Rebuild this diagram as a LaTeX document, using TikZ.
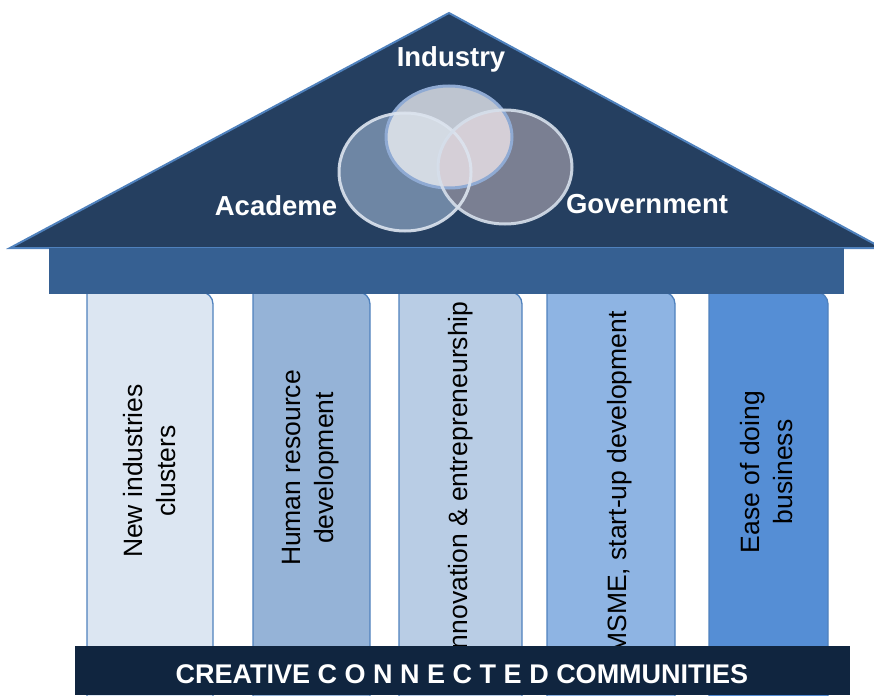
\documentclass[tikz,border=0pt]{standalone}
\usepackage{fontspec}
\setmainfont{Liberation Sans}

\definecolor{roofblue}{HTML}{253F60}
\definecolor{edgeblue}{HTML}{4F81BD}
\definecolor{beamblue}{HTML}{366092}
\definecolor{basenavy}{HTML}{10253F}
\definecolor{pillarA}{HTML}{DCE6F2}
\definecolor{pillarB}{HTML}{95B3D7}
\definecolor{pillarC}{HTML}{B9CDE5}
\definecolor{pillarD}{HTML}{8EB4E3}
\definecolor{pillarE}{HTML}{558ED5}

\newcommand{\industryshape}{(449,137) ellipse [x radius=63, y radius=51]}
\newcommand{\academeshape}{(405,172) ellipse [x radius=66, y radius=59]}
\newcommand{\governmentshape}{(505,167) ellipse [x radius=67, y radius=57]}

\tikzset{%
  pillar/.style={
    draw=edgeblue,
    line width=1.3pt
  },
  pillar label/.style={
    rotate=90,
    align=center,
    font=\fontsize{26.5}{33}\selectfont
  },
  roof label/.style={
    anchor=base,
    text=white,
    font=\fontsize{27.5}{30}\selectfont\bfseries
  },
}

\begin{document}
\begin{tikzpicture}[x=1pt,y=-1pt]
\clip (0,0) rectangle (874,695);
% roof
\draw[fill=roofblue,draw=edgeblue,line width=2pt] (10,248) -- (449,13) -- (882,248) -- cycle;
% circles
\fill[fill={rgb,255:red,110;green,134;blue,164}] \academeshape;
\fill[fill={rgb,255:red,122;green,127;blue,146}] \governmentshape;
\fill[fill={rgb,255:red,190;green,197;blue,208}] \industryshape;
\begin{scope}
  \clip \industryshape;
  \fill[fill={rgb,255:red,211;green,218;blue,227}] \academeshape;
  \fill[fill={rgb,255:red,213;green,207;blue,215}] \governmentshape;
\end{scope}
\draw[draw={rgb,255:red,143;green,170;blue,211},line width=3pt] \industryshape;
\draw[draw={rgb,255:red,220;green,228;blue,239},line width=3pt,opacity=.9] \academeshape;
\draw[draw={rgb,255:red,214;green,223;blue,235},line width=3pt,opacity=.9] \governmentshape;
% roof labels
\node[roof label] (industry) at (451,67) {Industry};
\node[roof label] (academe) at (276,215) {Academe};
\node[roof label] (government) at (647,213) {Government};
% pillars
\draw[pillar,fill=pillarA] (87,700) -- (87,292) -- (201,292) arc[start angle=-90,end angle=0,radius=12] -- (213,700);
\draw[pillar,fill=pillarB] (253,700) -- (253,292) -- (358,292) arc[start angle=-90,end angle=0,radius=12] -- (370,700);
\draw[pillar,fill=pillarC] (399,700) -- (399,292) -- (510,292) arc[start angle=-90,end angle=0,radius=12] -- (522,700);
\draw[pillar,fill=pillarD] (547,700) -- (547,292) -- (663,292) arc[start angle=-90,end angle=0,radius=12] -- (675,700);
\draw[pillar,fill=pillarE] (709,700) -- (709,292) -- (816,292) arc[start angle=-90,end angle=0,radius=12] -- (828,700);
\node[pillar label] (clusters) at (150,471) {New industries\\clusters};
\node[pillar label] (human) at (311,468) {Human resource\\development};
\node[pillar label] (innovation) at (461,479) {Innovation \& entrepreneurship};
\node[pillar label] (msme) at (620,483) {MSME, start-up development};
\node[pillar label] (business) at (767,472) {Ease of doing\\business};
% beam and base
\fill[beamblue] (49,248) rectangle (844,294);
\fill[basenavy] (75,646) rectangle (850,695);
\node[anchor=base,text=white,font=\fontsize{27}{30}\selectfont\bfseries] (base) at (462,683) {CREATIVE C O N N E C T E D COMMUNITIES};
\end{tikzpicture}
\end{document}
